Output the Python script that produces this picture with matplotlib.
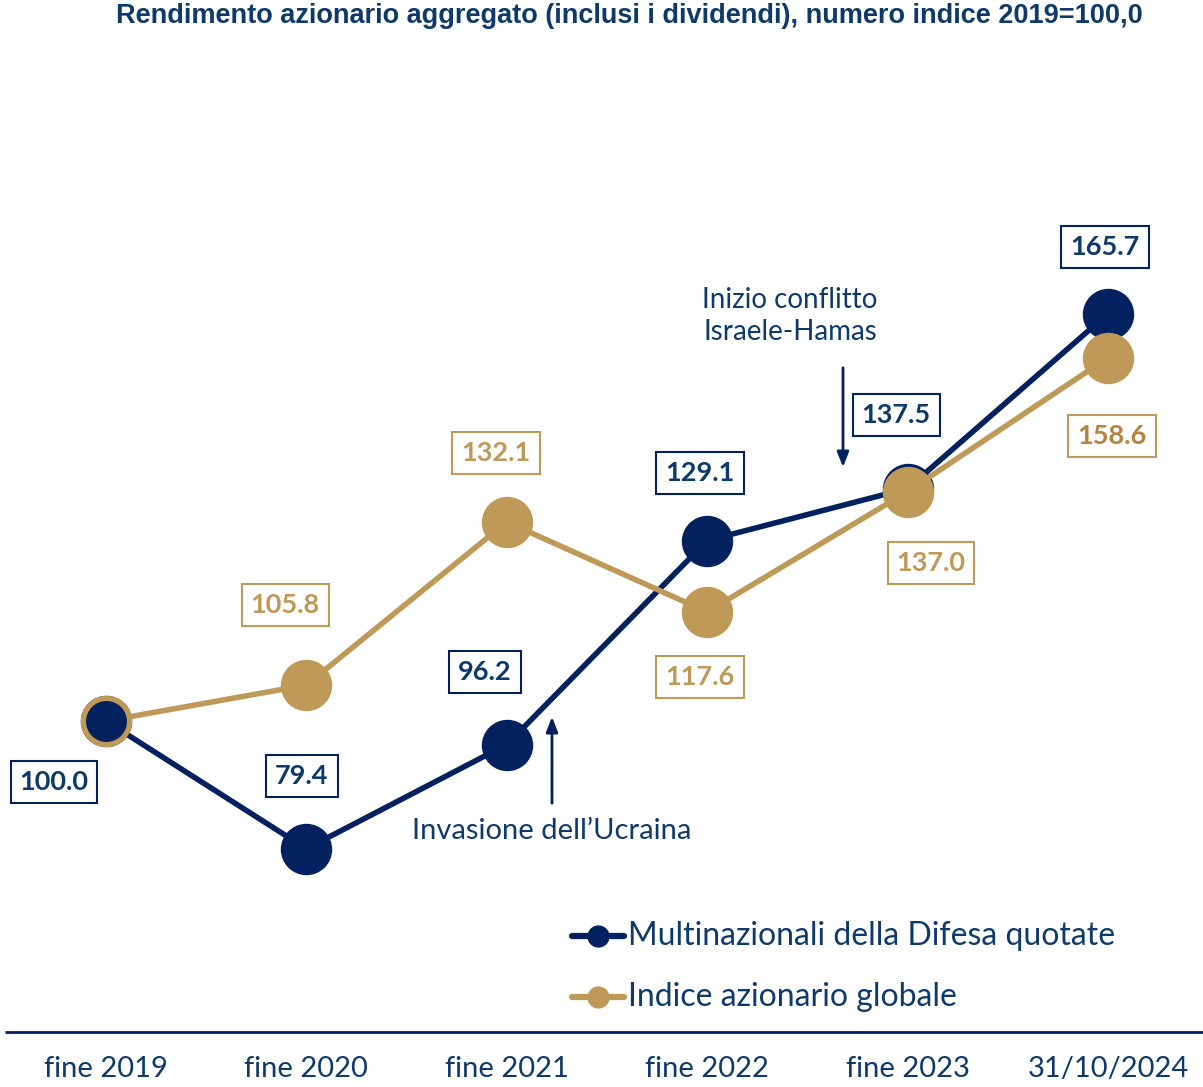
import matplotlib
matplotlib.use("Agg")
import matplotlib.pyplot as plt

# ---- data ----
categories = ["fine 2019", "fine 2020", "fine 2021", "fine 2022", "fine 2023", "31/10/2024"]
defense = [100.0, 79.4, 96.2, 129.1, 137.5, 165.7]
global_idx = [100.0, 105.8, 132.1, 117.6, 137.0, 158.6]
series_names = ["Multinazionali della Difesa quotate", "Indice azionario globale"]
title = "Rendimento azionario aggregato (inclusi i dividendi), numero indice 2019=100,0"
events = ["Inizio conflitto\nIsraele-Hamas", "Invasione dell\u2019Ucraina"]

NAVY = "#03215E"
NAVY_TXT = "#0D3A6B"
GOLD = "#BF9957"
GOLD_DARK = "#B8823F"

W, H = 1203, 1087
fig = plt.figure(figsize=(W / 100, H / 100), dpi=100)
ax = fig.add_axes([0, 0, 1, 1])

# pixel mapping: x px = 106 + 200.4*i ; y px = 721 - 6.2*(v-100)
xs = list(range(len(categories)))
ax.set_xlim(-106 / 200.4, (W - 106) / 200.4)
ax.set_ylim(100 - (H - 721) / 6.2, 100 + 721 / 6.2)
ax.axis("off")

def px(xp, yp):
    return ((xp - 106) / 200.4, 100 + (721 - yp) / 6.2)

FONT = ["Lato", "DejaVu Sans"]

ax.plot(xs, defense, color=NAVY, lw=4, marker="o", ms=36, mfc=NAVY, mec=NAVY, zorder=3)
ax.plot(xs, global_idx, color=GOLD, lw=4, marker="o", ms=36, mfc=GOLD, mec=GOLD, zorder=4)
ax.plot(xs[:1], defense[:1], ls="none", marker="o", ms=33, mfc=NAVY, mec=GOLD, mew=3.5, zorder=5)

# value labels (positions in pixel)
def_lab_pos = [(54, 782), (302, 776), (485, 672), (700, 473), (896, 415), (1105, 247)]
glo_lab_pos = [None, (285, 605), (496, 453), (700, 677), (931, 563), (1112, 436)]

def box_label(val, pos, tc, ec):
    x, y = px(*pos)
    ax.text(x, y, f"{val:.1f}", ha="center", va="center", fontsize=19.5, fontweight="bold",
            color=tc, family=FONT, zorder=6,
            bbox=dict(boxstyle="square,pad=0.33", fc="white", ec=ec, lw=1.5))

for v, p in zip(defense, def_lab_pos):
    box_label(v, p, NAVY_TXT, NAVY)
for i, (v, p) in enumerate(zip(global_idx, glo_lab_pos)):
    if p is None:
        continue
    box_label(v, p, GOLD_DARK if i == len(global_idx) - 1 else GOLD, GOLD)

# event annotations
x, y = px(790, 316)
ax.text(x, y, events[0], ha="center", va="center", fontsize=20, color=NAVY_TXT, family=FONT,
        linespacing=1.3)
ax.annotate("", xy=px(843, 470), xytext=px(843, 365),
            arrowprops=dict(arrowstyle="-|>,head_width=0.35,head_length=0.9", color=NAVY, lw=2))
x, y = px(552, 831)
ax.text(x, y, events[1], ha="center", va="center", fontsize=21, color=NAVY_TXT, family=FONT)
ax.annotate("", xy=px(552, 714), xytext=px(552, 806),
            arrowprops=dict(arrowstyle="-|>,head_width=0.35,head_length=0.9", color=NAVY, lw=2))

# legend
for name, col, yp in [(series_names[0], NAVY, 936), (series_names[1], GOLD, 997)]:
    x0, y0 = px(572, yp)
    x1, _ = px(624, yp)
    xm, _ = px(598, yp)
    ax.plot([x0, x1], [y0, y0], color=col, lw=4.5, solid_capstyle="round", zorder=3)
    ax.plot([xm], [y0], marker="o", ms=15, color=col, zorder=4)
    xt, _ = px(628, yp)
    ax.text(xt, y0, name, ha="left", va="center", fontsize=23, color=NAVY_TXT, family=FONT)

# baseline
xa, ya = px(5, 1032)
xb, _ = px(W, 1032)
ax.plot([xa, xb], [ya, ya], color=NAVY, lw=2, solid_capstyle="butt")

# category labels
for i, c in enumerate(categories):
    _, yl = px(0, 1069)
    ax.text(i, yl, c, ha="center", va="center", fontsize=21, color=NAVY_TXT, family=FONT)

# title
fig.text(0.523, 1 - 3 / H, title, ha="center", va="top", fontsize=19.5, fontweight="bold",
         color=NAVY_TXT, family=["Liberation Sans Narrow", "Liberation Sans", "DejaVu Sans"])

fig.savefig("out.png", dpi=100)
